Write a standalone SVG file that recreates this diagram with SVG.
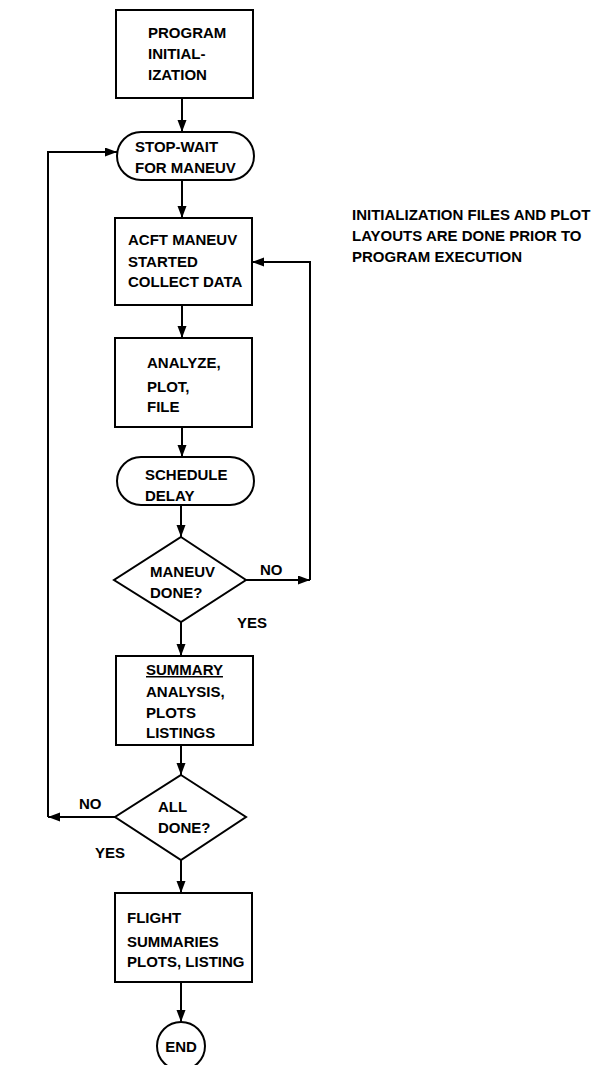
<svg xmlns="http://www.w3.org/2000/svg" width="604" height="1065" viewBox="0 0 604 1065">
<style>
.shape{fill:#fff;stroke:#000;stroke-width:2}
.conn{fill:none;stroke:#000;stroke-width:2}
text{font-family:"Liberation Sans",Arial,sans-serif;font-weight:bold;font-size:15px;fill:#000}
</style>
<defs>
<marker id="ah" markerUnits="userSpaceOnUse" markerWidth="14" markerHeight="10" refX="12" refY="4.5" orient="auto">
<path d="M0,0 L12,4.5 L0,9 z" fill="#000"/>
</marker>
</defs>
<rect width="604" height="1065" fill="#fff"/>
<g id="connectors">
<line class="conn" x1="182" y1="98" x2="182" y2="132" marker-end="url(#ah)"/>
<line class="conn" x1="182" y1="180" x2="182" y2="218" marker-end="url(#ah)"/>
<line class="conn" x1="182" y1="305" x2="182" y2="338" marker-end="url(#ah)"/>
<line class="conn" x1="182" y1="427" x2="182" y2="457" marker-end="url(#ah)"/>
<line class="conn" x1="181" y1="505" x2="181" y2="537" marker-end="url(#ah)"/>
<line class="conn" x1="245" y1="580" x2="310" y2="580" marker-end="url(#ah)"/>
<path class="conn" d="M310,580 L310,262 L252,262" marker-end="url(#ah)"/>
<line class="conn" x1="181" y1="622" x2="181" y2="656" marker-end="url(#ah)"/>
<line class="conn" x1="181" y1="745" x2="181" y2="775" marker-end="url(#ah)"/>
<line class="conn" x1="115" y1="817" x2="48" y2="817" marker-end="url(#ah)"/>
<path class="conn" d="M48,817 L48,152 L117,152" marker-end="url(#ah)"/>
<line class="conn" x1="181" y1="860" x2="181" y2="893" marker-end="url(#ah)"/>
<line class="conn" x1="181" y1="982" x2="181" y2="1022" marker-end="url(#ah)"/>
<text x="260" y="575">NO</text>
<text x="237" y="628">YES</text>
<text x="79" y="809">NO</text>
<text x="95" y="858">YES</text>
</g>
<g id="n-init">
<rect class="shape" x="116" y="10" width="137" height="88"/>
<text x="148" y="38">PROGRAM</text>
<text x="148" y="59">INITIAL-</text>
<text x="148" y="80">IZATION</text>
</g>
<g id="n-stopwait">
<rect class="shape" x="117" y="132" width="137" height="48" rx="24" ry="24"/>
<text x="135" y="152">STOP-WAIT</text>
<text x="135" y="173">FOR MANEUV</text>
</g>
<g id="n-acft">
<rect class="shape" x="115" y="218" width="137" height="87"/>
<text x="128" y="245">ACFT MANEUV</text>
<text x="128" y="267">STARTED</text>
<text x="128" y="287">COLLECT DATA</text>
</g>
<g id="n-analyze">
<rect class="shape" x="115" y="338" width="137" height="89"/>
<text x="147" y="368">ANALYZE,</text>
<text x="147" y="392">PLOT,</text>
<text x="147" y="412">FILE</text>
</g>
<g id="n-schedule">
<rect class="shape" x="117" y="457" width="137" height="48" rx="24" ry="24"/>
<text x="145" y="480">SCHEDULE</text>
<text x="145" y="501">DELAY</text>
</g>
<g id="n-maneuvdone">
<polygon class="shape" points="181,537 246,580 181,622 114,580"/>
<text x="150" y="577">MANEUV</text>
<text x="150" y="598">DONE?</text>
</g>
<g id="n-summary">
<rect class="shape" x="116" y="656" width="137" height="89"/>
<text x="146" y="675" text-decoration="underline">SUMMARY</text>
<text x="146" y="697">ANALYSIS,</text>
<text x="146" y="718">PLOTS</text>
<text x="146" y="738">LISTINGS</text>
</g>
<g id="n-alldone">
<polygon class="shape" points="181,775 246,817 181,860 115,817"/>
<text x="158" y="812">ALL</text>
<text x="158" y="833">DONE?</text>
</g>
<g id="n-flight">
<rect class="shape" x="115" y="893" width="137" height="89"/>
<text x="127" y="923">FLIGHT</text>
<text x="127" y="947">SUMMARIES</text>
<text x="127" y="967">PLOTS, LISTING</text>
</g>
<g id="n-end">
<circle class="shape" cx="181" cy="1046" r="24"/>
<text x="181" y="1052" text-anchor="middle">END</text>
</g>
<g id="note">
<text x="352" y="220">INITIALIZATION FILES AND PLOT</text>
<text x="352" y="241">LAYOUTS ARE DONE PRIOR TO</text>
<text x="352" y="262">PROGRAM EXECUTION</text>
</g>
</svg>
